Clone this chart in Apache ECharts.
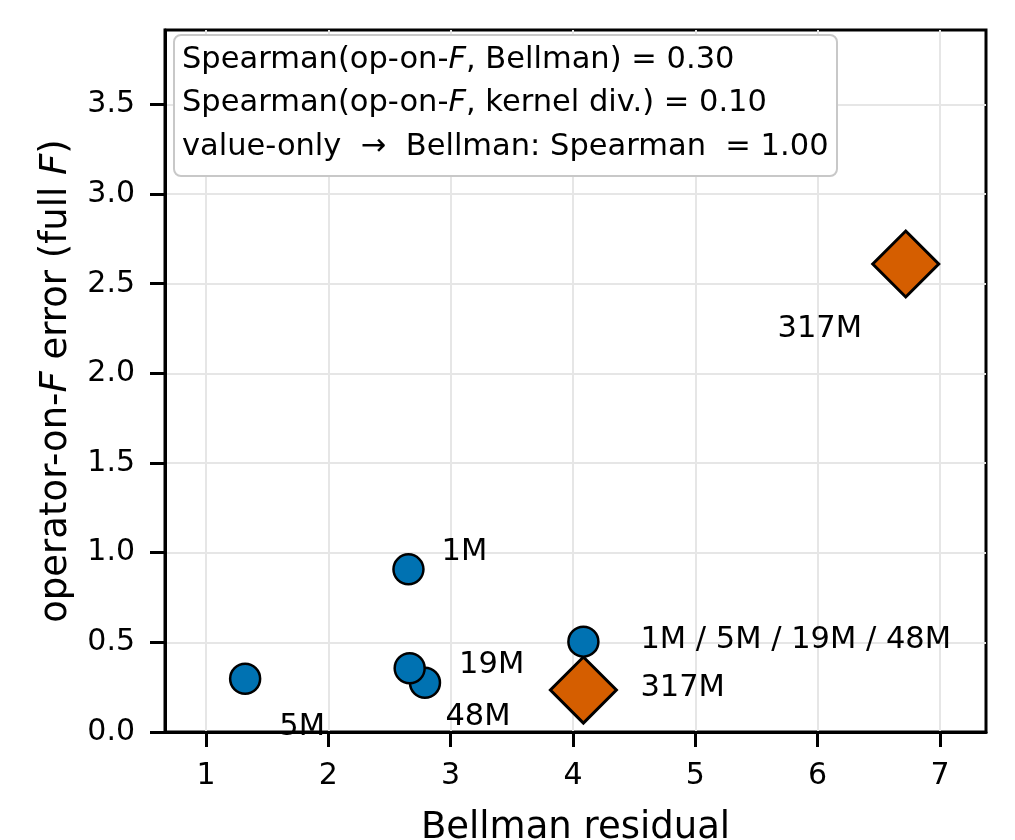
<!DOCTYPE html>
<html>
<head>
<meta charset="utf-8">
<script src="https://cdn.jsdelivr.net/npm/echarts@6/dist/echarts.min.js"></script>
<style>
  html, body { margin: 0; padding: 0; background: #fff; }
  #chart { width: 1015px; height: 840px; }
</style>
</head>
<body>
<div id="chart"></div>
<script>
// blue circles: operator-on-F models
const blueX = [1.32, 2.79, 2.665, 2.655, 4.085];
const blueY = [0.297, 0.275, 0.355, 0.907, 0.504];
const blueLabels = ["5M", "48M", "19M", "1M", "1M / 5M / 19M / 48M"];
// orange diamonds: 317M
const orangeX = [4.085, 6.72];
const orangeY = [0.234, 2.61];
const orangeLabels = ["317M", "317M"];

const xTicks = [1, 2, 3, 4, 5, 6, 7];
const yTicks = [0, 0.5, 1, 1.5, 2, 2.5, 3, 3.5];

const statLines = [
  ["Spearman(op-on-", "F", ", Bellman) = 0.30"],
  ["Spearman(op-on-", "F", ", kernel div.) = 0.10"],
  ["value-only  \u2192  Bellman: Spearman  = 1.00", "", ""],
];

// label placement (px, relative to marker centre)
const blueOffsets = [[57, 48, "center"], [53, 34, "center"], [82, -3, "center"], [56, -17, "center"], [57, -2, "left"]];
const orangeOffsets = [[57, -2, "left"], [-86, 65, "center"]];

const FONT = "DejaVu Sans";
const chart = echarts.init(document.getElementById("chart"));

const mkPoints = (xs, ys, names, offs) =>
  xs.map((x, i) => ({
    value: [x, ys[i]],
    name: names[i],
    label: { offset: [offs[i][0], offs[i][1]], align: offs[i][2] },
  }));

const rich = {
  a: { fontFamily: FONT, fontSize: 30.5, fontWeight: "normal", color: "#000", lineHeight: 43.5 },
  i: { fontFamily: FONT, fontSize: 30.5, fontWeight: "normal", color: "#000", lineHeight: 43.5, fontStyle: "italic" },
};
const statText = statLines
  .map((l) => "{a|" + l[0] + "}" + (l[1] ? "{i|" + l[1] + "}" : "") + (l[2] ? "{a|" + l[2] + "}" : ""))
  .join("\n");

const labelStyle = {
  show: true,
  position: "inside",
  formatter: "{b}",
  fontFamily: FONT,
  fontSize: 30.5,
  color: "#000",
};

chart.setOption({
  animation: false,
  backgroundColor: "#fff",
  title: {
    text: statText,
    left: 174,
    top: 35,
    padding: [3, 9, 8, 8],
    backgroundColor: "#fff",
    borderColor: "#c8c8c8",
    borderWidth: 2,
    borderRadius: 7,
    textStyle: { rich: rich, lineHeight: 43.5, fontWeight: "normal" },
    z: 10,
  },
  grid: {
    left: 165, right: 29, top: 30, bottom: 108,
    outerBoundsMode: "none",
    show: true, borderColor: "#000", borderWidth: 3,
  },
  xAxis: {
    type: "value",
    min: 0.665, max: 7.376,
    minInterval: 1, maxInterval: 1,
    name: "Bellman residual",
    nameLocation: "middle",
    nameGap: 78,
    nameTextStyle: { fontFamily: FONT, fontSize: 37, color: "#000" },
    axisLine: { show: true, lineStyle: { color: "#000", width: 3 } },
    axisTick: { show: true, length: 15, customValues: xTicks, lineStyle: { color: "#000", width: 3 } },
    axisLabel: {
      customValues: xTicks,
      margin: 29, fontFamily: FONT, fontSize: 30, color: "#000",
    },
    splitLine: { show: true, lineStyle: { color: "#e6e6e6", width: 2 } },
  },
  yAxis: {
    type: "value",
    min: 0, max: 3.915,
    minInterval: 0.5, maxInterval: 0.5,
    name: "operator-on-{i|F} error (full {i|F})",
    nameLocation: "middle",
    nameGap: 90,
    nameTextStyle: {
      fontFamily: FONT, fontSize: 37, color: "#000",
      rich: { i: { fontFamily: FONT, fontSize: 37, color: "#000", fontStyle: "italic" } },
    },
    axisLine: { show: true, lineStyle: { color: "#000", width: 3 } },
    axisTick: { show: true, length: 15, customValues: yTicks, lineStyle: { color: "#000", width: 3 } },
    axisLabel: {
      customValues: yTicks,
      margin: 30, fontFamily: FONT, fontSize: 30, color: "#000",
      formatter: (v) => v.toFixed(1),
    },
    splitLine: { show: true, lineStyle: { color: "#e6e6e6", width: 2 } },
  },
  series: [
    {
      type: "scatter",
      symbol: "diamond",
      symbolSize: 66,
      itemStyle: { color: "#D55E00", borderColor: "#000", borderWidth: 3, opacity: 1 },
      label: labelStyle,
      data: mkPoints(orangeX, orangeY, orangeLabels, orangeOffsets),
      z: 3,
    },
    {
      type: "scatter",
      symbol: "circle",
      symbolSize: 30,
      itemStyle: { color: "#0072B2", borderColor: "#000", borderWidth: 2.5, opacity: 1 },
      label: labelStyle,
      data: mkPoints(blueX, blueY, blueLabels, blueOffsets),
      z: 4,
    },
  ],
});
</script>
</body>
</html>
